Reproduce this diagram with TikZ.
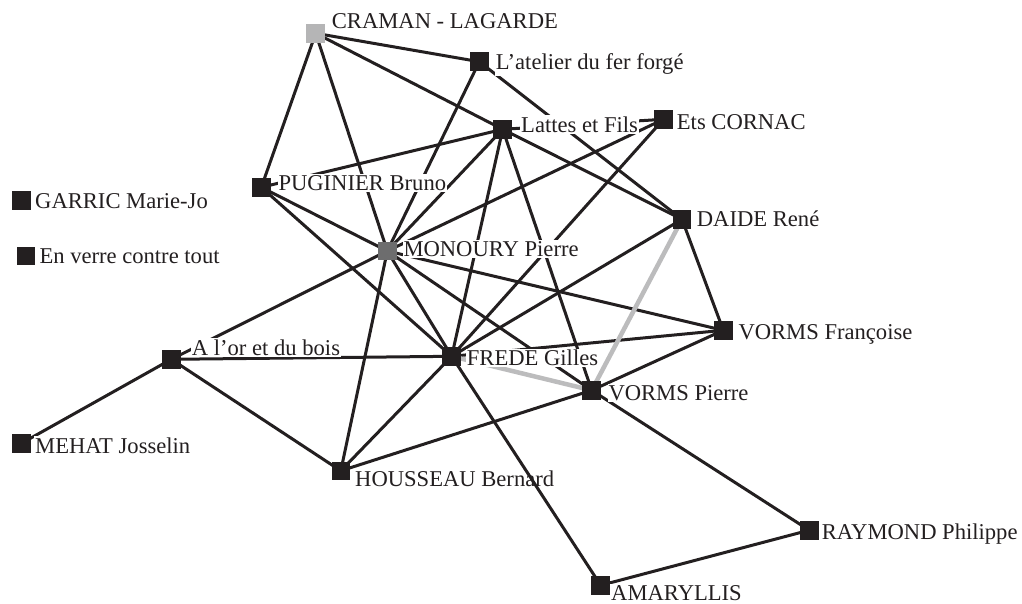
\documentclass[tikz,border=0pt]{standalone}
\usepackage{fontspec}
\setmainfont{Liberation Serif}
\definecolor{ink}{HTML}{231F20}
\definecolor{lightg}{HTML}{B5B5B6}
\definecolor{midg}{HTML}{6D6D6E}
\definecolor{edgeg}{HTML}{BCBCBD}
\tikzset{
  vtx/.style={rectangle, draw=none, fill=ink, minimum size=18.6pt, inner sep=0pt},
  lbl/.style={anchor=base west, fill=white, inner xsep=1pt, inner ysep=1.5pt, text=ink,
              font=\fontsize{22.6}{26}\selectfont},
  edge/.style={draw=ink, line width=3pt},
  gedge/.style={draw=edgeg, line width=4.5pt}
}
\begin{document}
\begin{tikzpicture}[x=1pt,y=-1pt]
\useasboundingbox (0,0) rectangle (1022,604);
% vertex coordinates
\coordinate (craman) at (315.7,33.3);
\coordinate (atelier) at (479.3,61.7);
\coordinate (lattes) at (502.7,129.3);
\coordinate (cornac) at (663.5,119.3);
\coordinate (daide) at (682,219.3);
\coordinate (puginier) at (261.3,187.3);
\coordinate (monoury) at (387.3,251);
\coordinate (frede) at (451.7,356.3);
\coordinate (vormsp) at (591.7,390.3);
\coordinate (vormsf) at (723.3,330.3);
\coordinate (alor) at (171.3,359.3);
\coordinate (housseau) at (340.8,470.8);
\coordinate (amaryllis) at (600.7,585.3);
\coordinate (raymond) at (809.2,530.2);
\coordinate (garric) at (21.7,200.7);
\coordinate (enverre) at (26,256);
\coordinate (mehat) at (21.5,443.3);
% edges
\foreach \a/\b in {craman/atelier, craman/lattes, craman/puginier, craman/monoury,
  atelier/monoury, atelier/daide,
  lattes/puginier, lattes/monoury, lattes/frede, lattes/vormsp, lattes/daide, lattes/cornac,
  cornac/monoury, cornac/frede,
  puginier/monoury, puginier/frede,
  monoury/alor, monoury/housseau, monoury/frede, monoury/vormsp, monoury/vormsf,
  frede/alor, frede/daide, frede/vormsf, frede/housseau,
  vormsp/housseau, vormsp/vormsf, vormsp/raymond,
  daide/vormsf, alor/housseau, alor/mehat, amaryllis/raymond}
  {\draw[edge] (\a) -- (\b);}
\draw[gedge] (frede) -- (vormsp);
\draw[gedge] (daide) -- (vormsp);
% squares
\node[vtx, fill=lightg] (ncraman) at (craman) {};
\node[vtx] (natelier) at (atelier) {};
\node[vtx] (nlattes) at (lattes) {};
\node[vtx] (ncornac) at (cornac) {};
\node[vtx] (ndaide) at (daide) {};
\node[vtx] (npuginier) at (puginier) {};
\node[vtx, fill=midg] (nmonoury) at (monoury) {};
\node[vtx] (nfrede) at (frede) {};
\node[vtx] (nvormsp) at (vormsp) {};
\node[vtx] (nvormsf) at (vormsf) {};
\node[vtx] (nalor) at (alor) {};
\node[vtx] (nhousseau) at (housseau) {};
\node[vtx] (namaryllis) at (amaryllis) {};
\node[vtx] (nraymond) at (raymond) {};
\node[vtx] (ngarric) at (garric) {};
\node[vtx] (nenverre) at (enverre) {};
\node[vtx] (nmehat) at (mehat) {};
% labels
\node[lbl] (lcraman) at (330.7,28.3) {CRAMAN - LAGARDE};
\node[lbl] (latelier) at (494.7,70) {L’atelier du fer forgé};
\node[lbl] (llattes) at (520,132.5) {Lattes et Fils};
\node[lbl] (lcornac) at (675.7,129.3) {Ets CORNAC};
\node[lbl] (ldaide) at (695.7,226) {DAIDE René};
\node[lbl] (lpuginier) at (277.3,190.7) {PUGINIER Bruno};
\node[lbl] (lmonoury) at (402.3,256.7) {MONOURY Pierre};
\node[lbl] (lfrede) at (465.7,365.7) {FREDE Gilles};
\node[lbl] (lvormsp) at (607.3,400) {VORMS Pierre};
\node[lbl] (lvormsf) at (737.3,339.3) {VORMS Françoise};
\node[lbl] (lalor) at (190.7,355) {A l’or et du bois};
\node[lbl, fill=none] (lhousseau) at (354,486) {HOUSSEAU Bernard};
\node[lbl] (lmehat) at (34,453) {MEHAT Josselin};
\node[lbl] (lraymond) at (820.7,539.3) {RAYMOND Philippe};
\node[lbl] (lamaryllis) at (610,600) {AMARYLLIS};
\node[lbl] (lgarric) at (34,208.3) {GARRIC Marie-Jo};
\node[lbl] (lenverre) at (38.3,263.3) {En verre contre tout};
% edge drawn over the HOUSSEAU label, as in the reference
\draw[edge] (frede) -- (amaryllis);
\node[vtx] at (frede) {};
\node[vtx] at (amaryllis) {};
\end{tikzpicture}
\end{document}
